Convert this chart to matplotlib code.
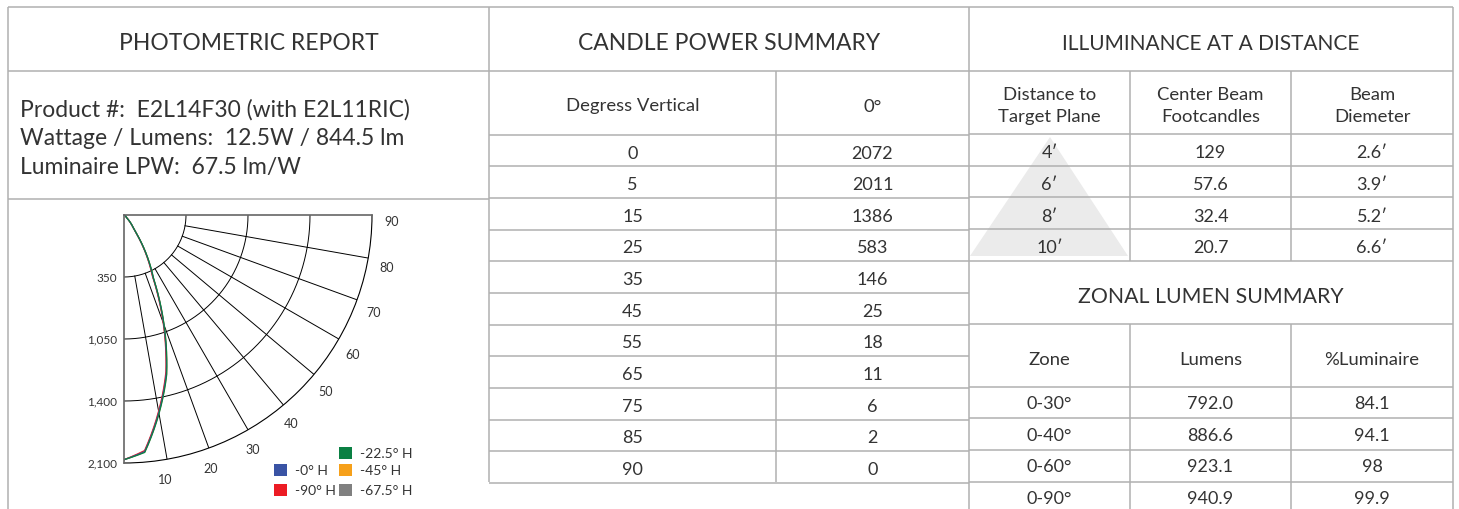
import numpy as np
import matplotlib
matplotlib.use('Agg')
import matplotlib.pyplot as plt
from matplotlib.patches import Rectangle, Polygon

plt.rcParams['font.family'] = ['Lato', 'DejaVu Sans']

# ---- data ----
report_info = ["Product #:  E2L14F30 (with E2L11RIC)",
               "Wattage / Lumens:  12.5W / 844.5 lm",
               "Luminaire LPW:  67.5 lm/W"]

vert_angles = [0, 5, 15, 25, 35, 45, 55, 65, 75, 85, 90]
candela = [2072, 2011, 1386, 583, 146, 25, 18, 11, 6, 2, 0]

distances = ["4′", "6′", "8′", "10′"]
footcandles = ["129", "57.6", "32.4", "20.7"]
beam_diam = ["2.6′", "3.9′", "5.2′", "6.6′"]

zones = ["0-30°", "0-40°", "0-60°", "0-90°"]
zone_lumens = ["792.0", "886.6", "923.1", "940.9"]
zone_pct = ["84.1", "94.1", "98", "99.9"]

# candela curves for each horizontal plane
plane_names = ["-0° H", "-22.5° H", "-45° H", "-67.5° H", "-90° H"]
plane_colors = ["#3953a4", "#0a8043", "#f6a01a", "#808080", "#ec1c24"]
cd_0h = [2072, 2011, 1386, 583, 146, 25, 18, 11, 6, 2, 0]
cd_22h = [2072, 2018, 1398, 592, 150, 26, 18, 11, 6, 2, 0]
cd_45h = [2072, 2014, 1392, 588, 148, 25, 18, 11, 6, 2, 0]
cd_67h = [2072, 2008, 1382, 578, 145, 25, 18, 11, 6, 2, 0]
cd_90h = [2072, 2002, 1372, 566, 140, 24, 17, 11, 6, 2, 0]
plane_values = [cd_0h, cd_22h, cd_45h, cd_67h, cd_90h]

ring_values = [525, 1050, 1575, 2100]
ring_labels = ["350", "1,050", "1,400", "2,100"]
spoke_angles = [10, 20, 30, 40, 50, 60, 70, 80]
angle_labels = [10, 20, 30, 40, 50, 60, 70, 80, 90]

# ---- layout (pixels) ----
W, H = 1459, 510
line_c = '#b0b0b0'
text_c = '#333333'
lw = 1.1

fig = plt.figure(figsize=(W / 100, H / 100), dpi=100)
tab = fig.add_axes([0, 0, 1, 1])
tab.set_xlim(0, W)
tab.set_ylim(H, 0)
tab.axis('off')


def hline(y, xa, xb):
    tab.plot([xa, xb], [y, y], color=line_c, lw=lw, solid_capstyle='butt')


def vline(x, ya, yb):
    tab.plot([x, x], [ya, yb], color=line_c, lw=lw, solid_capstyle='butt')


def cell_text(x, y, s, size=13, ha='center'):
    tab.text(x, y, s, ha=ha, va='baseline', fontsize=size, color=text_c)


# decorative beam triangle
tab.add_patch(Polygon([[970, 257], [1128, 257], [1050, 138]], closed=True,
                      facecolor='#ebebeb', edgecolor='none', zorder=0))

# outer frame and headers
hline(8, 8, 1453)
hline(72, 8, 1453)
vline(8, 8, 510)
vline(1453, 8, 510)
vline(489, 8, 483)
vline(969, 8, 510)
hline(200, 8, 489)

cell_text(248.5, 49.5, "PHOTOMETRIC REPORT", 16.5)
cell_text(729, 50.5, "CANDLE POWER SUMMARY", 16.5)
cell_text(1211, 50.5, "ILLUMINANCE AT A DISTANCE", 15)

for i, s in enumerate(report_info):
    cell_text(20, 116.5 + 29 * i, s, 16.5, ha='left')

sub_size = 13.3

# candle power table
row_h = 31.65
cp_top = 135.7
hline(cp_top, 489, 969)
vline(776, 72, 483)
cell_text(632.5, 111.5, "Degress Vertical", sub_size)
cell_text(872.5, 111.5, "0°", sub_size)
for i, (a, c) in enumerate(zip(vert_angles, candela)):
    y0 = cp_top + row_h * i
    hline(y0 + row_h, 489, 969)
    cell_text(632.5, y0 + row_h / 2 + 7, str(a))
    cell_text(872.5, y0 + row_h / 2 + 7, str(c))

# illuminance table
cols = [969, 1130, 1291, 1453]
mids = [(cols[i] + cols[i + 1]) / 2 for i in range(3)]
il_top = 135
hline(il_top, 969, 1453)
for x in cols[1:3]:
    vline(x, 72, 261.7)
for m, (l1, l2) in zip(mids, [("Distance to", "Target Plane"),
                              ("Center Beam", "Footcandles"),
                              ("Beam", "Diemeter")]):
    cell_text(m, 100.5, l1, sub_size)
    cell_text(m, 122, l2, sub_size)
for i, row in enumerate(zip(distances, footcandles, beam_diam)):
    y0 = il_top + row_h * i
    hline(y0 + row_h, 969, 1453)
    for m, s in zip(mids, row):
        cell_text(m, y0 + row_h / 2 + 7.5, s)

# zonal lumen table
cell_text(1211, 303.5, "ZONAL LUMEN SUMMARY", 15.3)
hline(325, 969, 1453)
for x in cols[1:3]:
    vline(x, 325, 510)
for m, s in zip(mids, ["Zone", "Lumens", "%Luminaire"]):
    cell_text(m, 365, s, sub_size)
zl_top = 387.7
hline(zl_top, 969, 1453)
for i, row in enumerate(zip(zones, zone_lumens, zone_pct)):
    y0 = zl_top + row_h * i
    hline(y0 + row_h, 969, 1453)
    for m, s in zip(mids, row):
        cell_text(m, y0 + row_h / 2 + 5.5, s)

# ---- polar candela plot ----
pol = fig.add_axes([124 / W, 1 - 464 / H, 248 / W, 248 / H], projection='polar')
pol.set_theta_zero_location('S')
pol.set_theta_direction(1)
pol.set_thetamin(0)
pol.set_thetamax(90)
pol.set_rlim(0, 2100)
pol.grid(False)
pol.set_xticks([])
pol.set_yticks([])
pol.patch.set_alpha(0)
pol.spines['polar'].set_color('black')
pol.spines['polar'].set_linewidth(0.8)
for k in ['start', 'end']:
    pol.spines[k].set_color('#666666')
    pol.spines[k].set_linewidth(1.2)
pol.spines['inner'].set_visible(False)

arc = np.radians(np.linspace(0, 90, 181))
for r in ring_values[:-1]:
    pol.plot(arc, np.full_like(arc, r), color='black', lw=0.7)
for a in spoke_angles:
    pol.plot([np.radians(a)] * 2, [ring_values[0], ring_values[-1]],
             color='black', lw=0.7)

for r, lab in zip(ring_values, ring_labels):
    pol.annotate(lab, xy=(0, r), xytext=(-5, 0), textcoords='offset points',
                 ha='right', va='center', fontsize=8.5, color=text_c,
                 annotation_clip=False)
for a in angle_labels:
    pol.text(np.radians(a - 1.2), 2265, str(a), ha='center', va='center',
             fontsize=9, color=text_c, clip_on=False)

# draw segments as polar arcs (theta/r space) rather than chords
draw_order = [3, 2, 4, 0, 1]
for k in draw_order:
    ln, = pol.plot(np.radians(vert_angles), plane_values[k],
                   color=plane_colors[k], lw=0.9)
    ln.get_path()._interpolation_steps = 40

# legend
legend_pos = {"-0° H": (274, 465), "-90° H": (274, 485),
              "-22.5° H": (339, 448), "-45° H": (339, 465),
              "-67.5° H": (339, 485)}
for name, col in zip(plane_names, plane_colors):
    x, y = legend_pos[name]
    tab.add_patch(Rectangle((x, y), 13, 12, facecolor=col, edgecolor='none'))
    tab.text(x + 21, y + 6.5, name, ha='left', va='center', fontsize=10,
             color=text_c)

fig.savefig('out.png', dpi=100)
